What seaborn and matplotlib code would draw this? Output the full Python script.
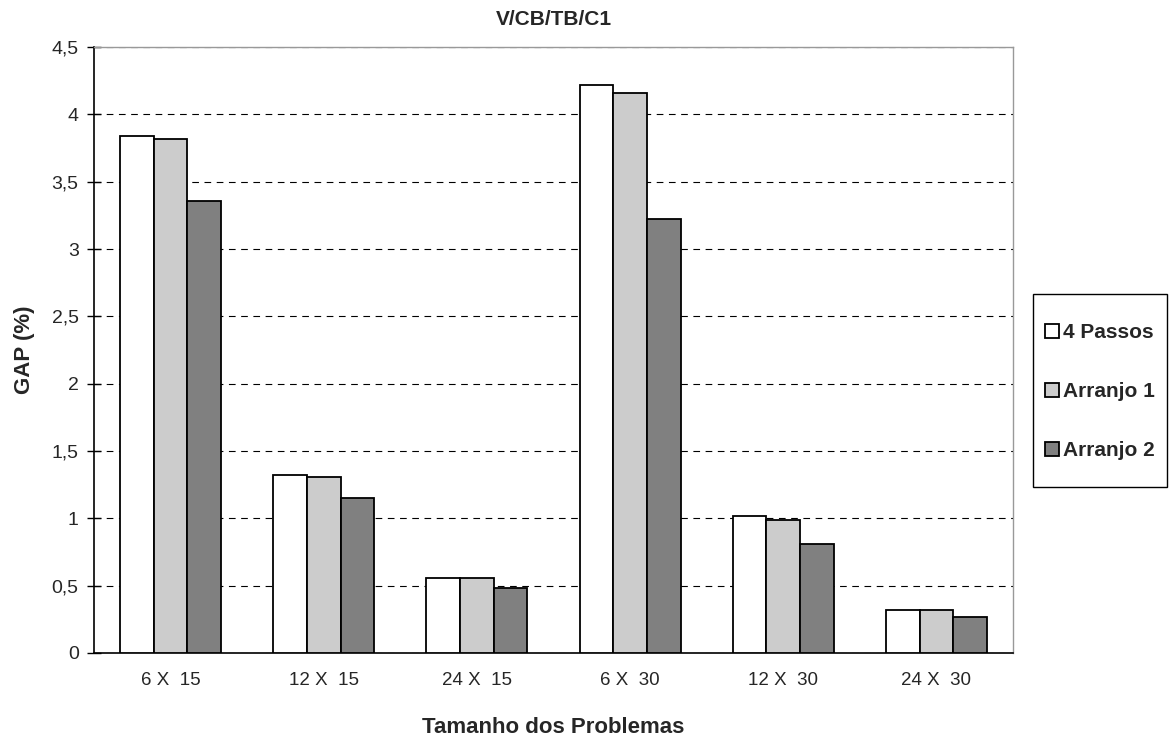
import matplotlib
matplotlib.use("Agg")
import matplotlib.pyplot as plt
import seaborn as sns
import pandas as pd
from matplotlib.patches import Rectangle
from matplotlib.ticker import MultipleLocator, FuncFormatter

categories = ["6 X  15", "12 X  15", "24 X  15", "6 X  30", "12 X  30", "24 X  30"]
series_names = ["4 Passos", "Arranjo 1", "Arranjo 2"]
quatro_passos = [3.84, 1.32, 0.56, 4.22, 1.02, 0.32]
arranjo_1 = [3.82, 1.31, 0.56, 4.16, 0.99, 0.32]
arranjo_2 = [3.36, 1.15, 0.48, 3.22, 0.81, 0.27]
colors = ["#ffffff", "#cccccc", "#808080"]

rows = []
for name, vals in zip(series_names, [quatro_passos, arranjo_1, arranjo_2]):
    for cat, v in zip(categories, vals):
        rows.append({"Tamanho": cat, "Metodo": name, "GAP": v})
df = pd.DataFrame(rows)

sns.set_style("white")
plt.rcParams["font.family"] = ["Liberation Sans", "DejaVu Sans"]

fig = plt.figure(figsize=(11.69, 7.38), dpi=100)
ax = fig.add_axes([0.0804, 0.1152, 0.7862, 0.8211])

sns.barplot(data=df, x="Tamanho", y="GAP", hue="Metodo", order=categories,
            hue_order=series_names, palette=colors, width=0.66,
            edgecolor="black", linewidth=1.3, ax=ax, legend=True, zorder=3)

ax.set_ylim(0, 4.5)
ax.set_xlim(-0.5, len(categories) - 0.5)
ax.yaxis.set_major_locator(MultipleLocator(0.5))
ax.yaxis.set_major_formatter(FuncFormatter(lambda v, p: ("%g" % v).replace(".", ",")))
ax.grid(axis="y", color="black", linestyle=(0, (6, 5)), linewidth=0.8, zorder=0)
ax.set_axisbelow(True)

# category ticks sit on the group boundaries
ax.set_xticks(range(len(categories)))
ax.set_xticklabels(categories)
ax.tick_params(axis="x", length=0, labelsize=13.5, pad=14)
ax.set_xticks([i - 0.5 for i in range(len(categories) + 1)], minor=True)
ax.tick_params(axis="x", which="minor", length=6, width=1, color="black", direction="out")
ax.tick_params(axis="y", length=10, width=1, color="black", direction="inout", labelsize=14,
               left=True, pad=6)

for s in ["left", "bottom"]:
    ax.spines[s].set_color("black")
    ax.spines[s].set_linewidth(1.2)
for s in ["top", "right"]:
    ax.spines[s].set_color("#999999")
    ax.spines[s].set_linewidth(1.0)

ax.set_xlabel("Tamanho dos Problemas", fontsize=16, fontweight="bold", labelpad=20)
ax.set_ylabel("GAP (%)", fontsize=16, fontweight="bold", labelpad=12)
ax.set_title("V/CB/TB/C1", fontsize=15, fontweight="bold", pad=16)

handles, labels = ax.get_legend_handles_labels()
leg = ax.legend(handles, labels, loc="center left", bbox_to_anchor=(1.0348, 0.4307),
                frameon=False, prop={"weight": "bold", "size": 15},
                handlelength=0.65, handleheight=0.65, handletextpad=0.2,
                labelspacing=1.92, borderpad=0, borderaxespad=0)

# legend box
fig.patches.append(Rectangle((1033 / 1169, 1 - 487 / 738), 134 / 1169, 193 / 738,
                             transform=fig.transFigure, fill=False,
                             edgecolor="black", linewidth=1.0))

fig.savefig("out.png", dpi=100, facecolor="white")
